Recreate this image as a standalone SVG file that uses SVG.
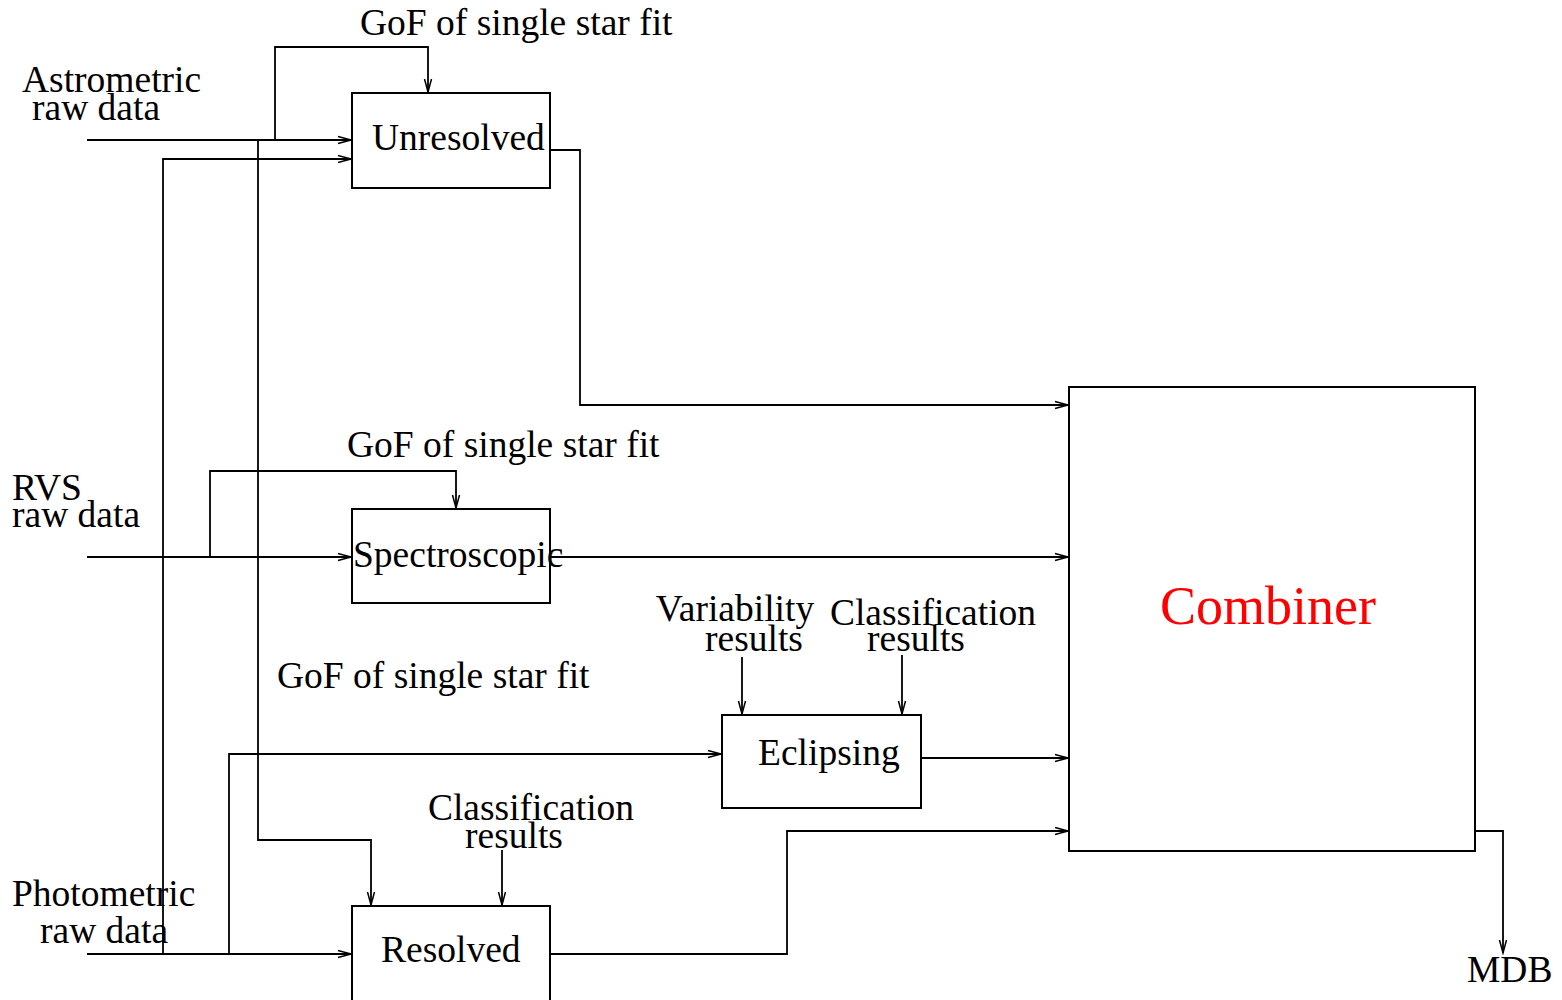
<svg xmlns="http://www.w3.org/2000/svg" width="1562" height="1000" viewBox="0 0 1562 1000">
<style>
text { font-family: "Liberation Serif", "Times New Roman", serif; font-size: 37.5px; fill: #000; }
.box { fill: none; stroke: #000; stroke-width: 2; }
.wire { fill: none; stroke: #000; stroke-width: 1.8; }
.arr { marker-end: url(#ah); }
</style>
<defs>
<marker id="ah" markerUnits="userSpaceOnUse" markerWidth="16" markerHeight="12" refX="14" refY="6" orient="auto">
<polyline points="1,2.5 14,6 1,9.5" fill="none" stroke="#000" stroke-width="1.5"/>
</marker>
</defs>
<rect width="1562" height="1000" fill="#fff"/>

<g id="connectors">
<path class="wire arr" d="M87,140 H351"/>
<path class="wire arr" d="M275,140 V47 H428 V92"/>
<path class="wire arr" d="M258,140 V840 H371 V905"/>
<path class="wire arr" d="M163,954 V159 H351"/>
<path class="wire arr" d="M87,954 H351"/>
<path class="wire arr" d="M229,954 V754 H721"/>
<path class="wire arr" d="M87,557 H351"/>
<path class="wire arr" d="M210,557 V471 H456 V508"/>
<path class="wire arr" d="M550,557 H1068"/>
<path class="wire arr" d="M550,150 H580 V405 H1068"/>
<path class="wire arr" d="M922,758 H1068"/>
<path class="wire arr" d="M550,954 H787 V831 H1068"/>
<path class="wire arr" d="M1475,831 H1503 V953"/>
<path class="wire arr" d="M742,657 V714"/>
<path class="wire arr" d="M902,655 V714"/>
<path class="wire arr" d="M502,850 V905"/>
</g>

<g id="unresolved">
<rect class="box" x="352" y="93" width="198" height="95"/>
<text x="372" y="150">Unresolved</text>
</g>
<g id="spectroscopic">
<rect class="box" x="352" y="509" width="198" height="94"/>
<text x="353" y="567">Spectroscopic</text>
</g>
<g id="eclipsing">
<rect class="box" x="722" y="715" width="199" height="93"/>
<text x="758" y="765">Eclipsing</text>
</g>
<g id="resolved">
<rect class="box" x="352" y="906" width="198" height="120"/>
<text x="381" y="962">Resolved</text>
</g>
<g id="combiner">
<rect class="box" x="1069" y="387" width="406" height="464"/>
<text x="1268" y="624" text-anchor="middle" style="font-size:54px; fill:#ff0000">Combiner</text>
</g>

<g id="labels">
<text x="360" y="35">GoF of single star fit</text>
<text x="22" y="92">Astrometric</text>
<text x="32" y="120">raw data</text>
<text x="12" y="500">RVS</text>
<text x="12" y="527">raw data</text>
<text x="347" y="457">GoF of single star fit</text>
<text x="277" y="688">GoF of single star fit</text>
<text x="735" y="621" text-anchor="middle">Variability</text>
<text x="754" y="651" text-anchor="middle">results</text>
<text x="933" y="625" text-anchor="middle">Classification</text>
<text x="916" y="651" text-anchor="middle">results</text>
<text x="531" y="820" text-anchor="middle">Classification</text>
<text x="514" y="848" text-anchor="middle">results</text>
<text x="12" y="906">Photometric</text>
<text x="40" y="943">raw data</text>
<text x="1467" y="982">MDB</text>
</g>
</svg>
